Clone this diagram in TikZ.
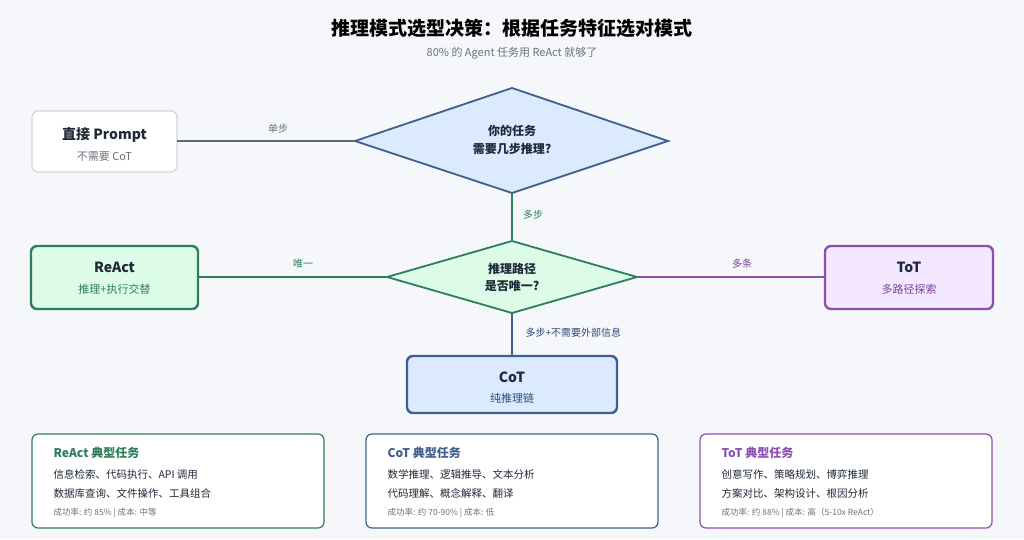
\documentclass[tikz,border=0pt]{standalone}
\usepackage{fontspec}
\setmainfont{Noto Sans CJK SC}
\usetikzlibrary{shapes.geometric}
\definecolor{bg}{HTML}{F5F7FA}
\definecolor{ink}{HTML}{1F2937}
\definecolor{gray}{HTML}{6B7280}
\definecolor{lgray}{HTML}{D1D5DB}
\definecolor{bfill}{HTML}{DBEAFE}
\definecolor{bline}{HTML}{3F5F8F}
\definecolor{btext}{HTML}{2B4A7A}
\definecolor{gfill}{HTML}{DCFCE7}
\definecolor{gline}{HTML}{2E7D5B}
\definecolor{gtext}{HTML}{2E7D5B}
\definecolor{pfill}{HTML}{F3E8FF}
\definecolor{pline}{HTML}{8B4FB0}
\definecolor{ptext}{HTML}{7B3FA0}
\tikzset{
  box/.style={draw, rounded corners=6pt, line width=#1},
  lbl/.style={font=\fontsize{10}{12}\selectfont},
  ttl/.style={font=\bfseries\fontsize{14}{16}\selectfont, text=ink},
  sub/.style={font=\fontsize{11}{13}\selectfont},
  conn/.style={line width=1.6pt},
}
\begin{document}
\begin{tikzpicture}[x=1pt,y=-1pt]
\fill[bg] (0,0) rectangle (1024,539);
\useasboundingbox (0,0) rectangle (1024,539);
\node[font=\bfseries\fontsize{19}{22}\selectfont, text=black] (title) at (512,28) {推理模式选型决策：根据任务特征选对模式};
\node[font=\fontsize{11}{13}\selectfont, text=gray] (subt) at (512,53) {80\% 的 Agent 任务用 ReAct 就够了};
% prompt box
\draw[box=1.2pt, draw=lgray, fill=white] (32,111) rectangle (177,172);
\coordinate (pr) at (177,141);
\node[ttl] (pt) at (104.5,135) {直接 Prompt};
\node[sub, text=gray] (ps) at (104.5,157) {不需要 CoT};
% diamond 1
\draw[line width=1.8pt, draw=bline, fill=bfill] (355,141) coordinate (d1l) -- (512,88) -- (668,141) -- (512,193) coordinate (d1b) -- cycle;
\node[ttl, text=ink, align=center, font=\bfseries\fontsize{12}{18}\selectfont] (d1) at (512,140) {你的任务\\需要几步推理?};
\draw[conn, draw=gray!90!black] (pr) -- (d1l);
\node[lbl, text=gray] (l1) at (278,129) {单步};
% diamond 2
\draw[line width=1.8pt, draw=gline, fill=gfill] (387,277) coordinate (d2l) -- (512,241) coordinate (d2t) -- (637,277) coordinate (d2r) -- (512,313) coordinate (d2b) -- cycle;
\node[align=center, font=\bfseries\fontsize{12}{17}\selectfont, text=ink] (d2) at (512,277) {推理路径\\是否唯一?};
\draw[conn, draw=gline] (d1b) -- (d2t);
\node[lbl, text=gtext] (l2) at (533,215) {多步};
% ReAct
\draw[box=2.4pt, draw=gline, fill=gfill] (31,246) rectangle (198,309);
\coordinate (rr) at (198,277);
\node[ttl] (rt) at (114.5,267) {ReAct};
\node[sub, text=gtext] (rs) at (114.5,289) {推理+执行交替};
\draw[conn, draw=gline] (rr) -- (d2l);
\node[lbl, text=gtext] (l3) at (303,264) {唯一};
% ToT
\draw[box=2.4pt, draw=pline, fill=pfill] (825,246) rectangle (993,309);
\coordinate (tl) at (825,277);
\node[ttl] (tt) at (909,267) {ToT};
\node[sub, text=ptext] (ts) at (909,289) {多路径探索};
\draw[conn, draw=pline] (d2r) -- (tl);
\node[lbl, text=ptext] (l4) at (742,264) {多条};
% CoT
\draw[box=2.4pt, draw=bline, fill=bfill] (407,356) rectangle (617,413);
\coordinate (ct) at (512,356);
\node[ttl] (cot) at (512,377) {CoT};
\node[sub, text=btext] (cs) at (512,398) {纯推理链};
\draw[conn, draw=bline] (d2b) -- (ct);
\node[lbl, text=btext, anchor=west] (l5) at (522,333) {多步+不需要外部信息};
% cards
\foreach \x/\c/\t/\a/\b/\s in {
 32/gline/ReAct 典型任务/信息检索、代码执行、API 调用/数据库查询、文件操作、工具组合/成功率: 约 85\% | 成本: 中等,
 366/bline/CoT 典型任务/数学推理、逻辑推导、文本分析/代码理解、概念解释、翻译/成功率: 约 70-90\% | 成本: 低,
 700/pline/ToT 典型任务/创意写作、策略规划、博弈推理/方案对比、架构设计、根因分析/成功率: 约 88\% | 成本: 高（5-10x ReAct）}{
  \draw[box=1.2pt, draw=\c, fill=white] (\x,434) rectangle ++(292,94);
  \node[anchor=west, font=\bfseries\fontsize{12}{14}\selectfont, text=\c] at (\x+18,453) {\t};
  \node[anchor=west, font=\fontsize{10.5}{12}\selectfont, text=ink] at (\x+18,474) {\a};
  \node[anchor=west, font=\fontsize{10.5}{12}\selectfont, text=ink] at (\x+18,493) {\b};
  \node[anchor=west, font=\fontsize{8.5}{10}\selectfont, text=gray] at (\x+18,513) {\s};
}
\end{tikzpicture}
\end{document}
